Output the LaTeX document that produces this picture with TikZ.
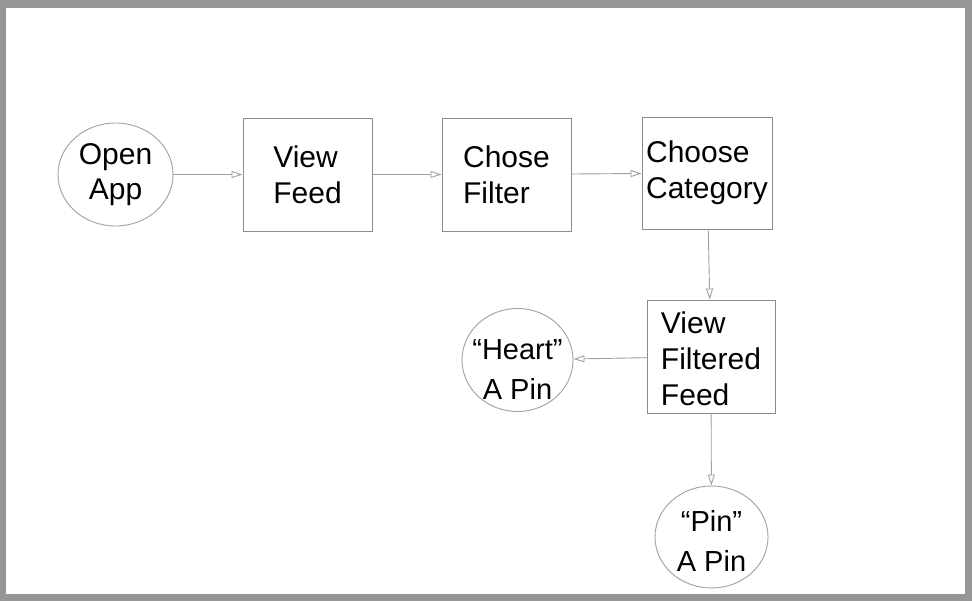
\documentclass[tikz,border=0pt]{standalone}
\usepackage{fontspec}
\setmainfont{Liberation Sans}
\usepackage{tikz}
\usetikzlibrary{arrows.meta,shapes.geometric}
\definecolor{frameGray}{HTML}{969696}
\definecolor{boxGray}{HTML}{8C8C8C}
\definecolor{lineGray}{HTML}{A0A0A0}
\tikzset{flowFig/.style={->,>={Triangle[open,length=11pt,width=7pt]},x=1pt,y=-1pt,
                    line width=0.9pt,lineGray,
                    font=\fontsize{30}{36}\selectfont},
         actBox/.style={draw=boxGray,rectangle,align=left,text=black,
                    minimum width=129pt,minimum height=113pt,inner sep=0pt},
         endState/.style={draw=lineGray,ellipse,align=center,text=black,
                    font=\fontsize{29}{40}\selectfont,
                    minimum width=114pt,minimum height=102pt,inner sep=-15pt}}

\begin{document}
\begin{tikzpicture}[flowFig]
		    %FRAME
			\useasboundingbox (0,0) rectangle (972,601);
			\fill [frameGray] (0,0) rectangle (972,601);
			\fill [white] (6,8) rectangle (965,594);
		    %TOP ROW
			\node [endState, minimum width=115pt, minimum height=103pt, font=\fontsize{30}{35}\selectfont] (nOpen) at (115.5,174.5)     {Open\\App};
			\node [actBox] (nFeed) at (307.5,174.5)     {View\\Feed};
			\node [actBox] (nFilter) at (506.5,174.5)     {Chose\\Filter};
			\node [actBox, minimum width=130pt, minimum height=112pt] (nCat) at (707,173)     {Choose\\Category};
			%BOTTOM
			\node [actBox, minimum width=128pt] (nFiltFeed) at (711,356.5)     {\rule{0pt}{25.5pt}View\\Filtered\\Feed};
			\node [endState, minimum width=111pt, minimum height=103pt] (nHeart) at (517.5,360)     {\rule{0pt}{40pt}“Heart”\\A Pin};
			\node [endState, minimum width=113pt] (nPin) at (711.5,537)     {\rule{0pt}{29.5pt}“Pin”\\A Pin};
			
			%
			\path[->]
            (nOpen) edge (nFeed)
			(nFeed) edge (nFilter)
			(nFilter) edge (nCat)
			(nCat) edge (nFiltFeed)
			(nFiltFeed) edge (nHeart)
			(nFiltFeed) edge (nPin)
			;
		\end{tikzpicture}
\end{document}
